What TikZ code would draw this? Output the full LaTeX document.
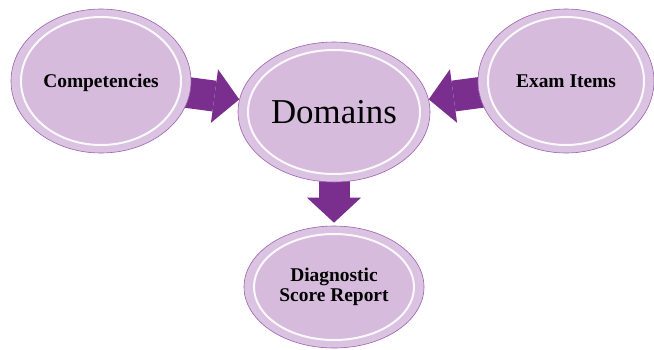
\documentclass[tikz,border=0pt]{standalone}
\usepackage{fontspec}
\setmainfont{Liberation Serif}
\usetikzlibrary{shapes.geometric,arrows.meta}

\definecolor{lilac}{RGB}{214,187,221}
\definecolor{rimlight}{RGB}{222,200,229}
\definecolor{rimdark}{RGB}{156,98,175}
\definecolor{arrowpurple}{RGB}{122,46,142}

\pgfdeclareradialshading{bubblerim}{\pgfpoint{0bp}{0bp}}{color(0bp)=(lilac); color(41bp)=(rimlight); color(50bp)=(rimdark)}

\pgfdeclarelayer{background}
\pgfsetlayers{background,main}

\tikzset{
	bubble/.style 2 args={ellipse, minimum width=#1bp, minimum height=#2bp, inner sep=0pt,
		shade, shading=bubblerim, draw=rimdark, line width=0.6bp,
		path picture={\filldraw[fill=lilac, draw=white, line width=2bp, draw opacity=0.9]
			(path picture bounding box.center) ellipse [x radius=#1/2*1bp-10bp, y radius=#2/2*1bp-8bp];}},
	bubbletext/.style={font=\fontsize{19.5}{20}\selectfont\bfseries, align=center},
	flow/.style={arrowpurple, line width=31bp, -{Triangle[width=54bp,length=25bp,line width=0pt]}, shorten <=-8bp}
}

\begin{document}
\begin{tikzpicture}[x=1bp,y=-1bp]
			\useasboundingbox (0,0) rectangle (654,349);
			
			% Bubbles
			\node[bubble={180}{144}, bubbletext, text depth=0pt] (comp) at (101,81) {Competencies};
			\node[bubble={192}{140}, font=\fontsize{35}{40}\selectfont] (dom) at (334,112) {Domains};
			\node[bubble={176}{144}, bubbletext, text depth=0pt] (exam) at (566,81) {Exam Items};
			\node[bubble={180}{122}, bubbletext] (diag) at (334,287) {Diagnostic\\Score Report};
			
			% Block arrows
			\begin{pgfonlayer}{background}
				\draw[flow] (comp) -- (dom);
				\draw[flow] (exam) -- (dom);
				\draw[flow, shorten >=3bp] (dom) -- (diag);
			\end{pgfonlayer}
\end{tikzpicture}
\end{document}
